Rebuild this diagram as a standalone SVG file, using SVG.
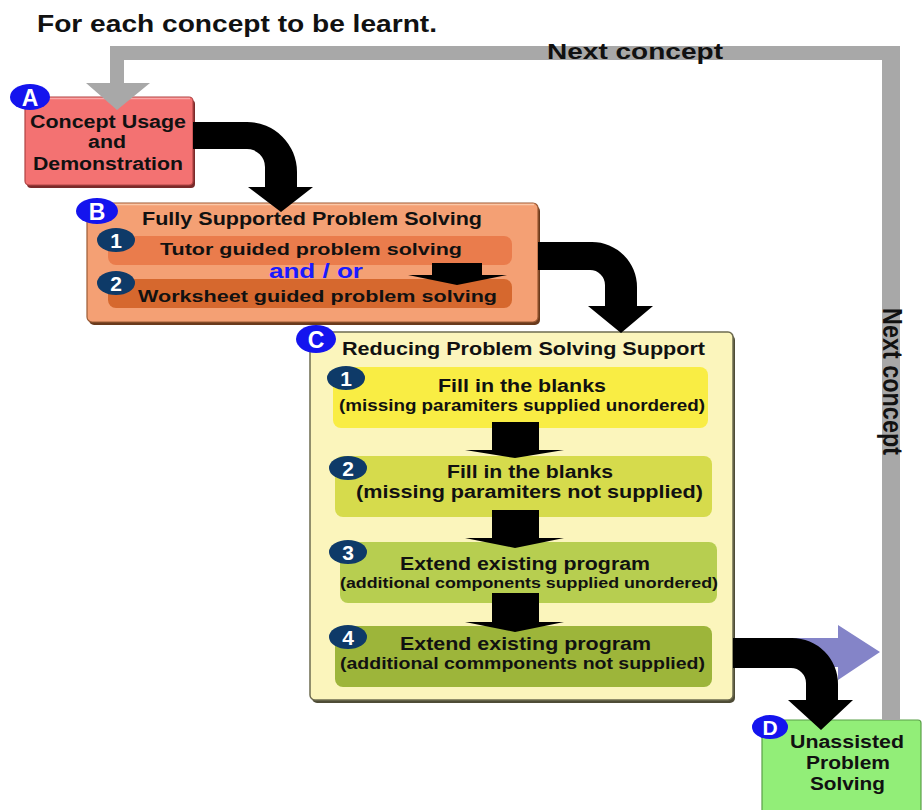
<svg xmlns="http://www.w3.org/2000/svg" width="924" height="810" viewBox="0 0 924 810">
  <defs>
    <style>
      .t { font-family: "Liberation Sans", Arial, sans-serif; font-weight: bold; fill: #111; }
      .w { font-family: "Liberation Sans", Arial, sans-serif; font-weight: bold; fill: #fff; text-anchor: middle; }
      .badge { fill: #1414ee; }
      .num { fill: #0e3a68; }
      .blk { fill: #000; }
    </style>
  </defs>
  <rect width="924" height="810" fill="#fff"/>

  <text class="t" x="37" y="32" font-size="23" textLength="400" lengthAdjust="spacingAndGlyphs">For each concept to be learnt.</text>

  <!-- A -->
  <g id="nodeA">
    <rect x="27" y="100" width="168" height="88" rx="4" fill="#7a2a2a"/>
    <rect x="25" y="97" width="168" height="88" rx="4" fill="#f37272" stroke="#b04444" stroke-width="1.2"/>
    <line x1="28" y1="98.5" x2="190" y2="98.5" stroke="#f9a8a8" stroke-width="1.5"/>
    <ellipse class="badge" cx="30" cy="97" rx="20" ry="13"/>
    <text class="w" x="30" y="105.5" font-size="23">A</text>
    <text class="t" x="30" y="128" font-size="18" textLength="156" lengthAdjust="spacingAndGlyphs">Concept Usage</text>
    <text class="t" x="88" y="148" font-size="18" textLength="38" lengthAdjust="spacingAndGlyphs">and</text>
    <text class="t" x="33" y="170" font-size="18" textLength="150" lengthAdjust="spacingAndGlyphs">Demonstration</text>
  </g>

  <!-- B -->
  <g id="nodeB">
    <rect x="89" y="206" width="451" height="119" rx="5" fill="#6a3a1c"/>
    <rect x="87" y="203" width="451" height="119" rx="5" fill="#f4a074" stroke="#9a5a34" stroke-width="1.2"/>
    <line x1="91" y1="204.5" x2="534" y2="204.5" stroke="#f9c8a8" stroke-width="1.5"/>
    <rect x="108" y="236" width="404" height="29" rx="8" fill="#ea7c4c"/>
    <rect x="108" y="279" width="404" height="29" rx="8" fill="#d6682e"/>
    <ellipse class="badge" cx="97" cy="211" rx="21" ry="13"/>
    <text class="w" x="97" y="219.5" font-size="23">B</text>
    <ellipse class="num" cx="116" cy="240" rx="19" ry="12"/>
    <text class="w" x="116" y="247.5" font-size="21">1</text>
    <ellipse class="num" cx="116" cy="283" rx="19" ry="12"/>
    <text class="w" x="116" y="290.5" font-size="21">2</text>
    <text class="t" x="142" y="225" font-size="17.5" textLength="340" lengthAdjust="spacingAndGlyphs">Fully Supported Problem Solving</text>
    <text class="t" x="160" y="255" font-size="17" textLength="302" lengthAdjust="spacingAndGlyphs">Tutor guided problem solving</text>
    <text class="t" x="269" y="278" font-size="20" textLength="94" lengthAdjust="spacingAndGlyphs" style="fill:#1a1aff">and / or</text>
    <text class="t" x="138" y="302" font-size="17" textLength="359" lengthAdjust="spacingAndGlyphs">Worksheet guided problem solving</text>
  </g>

  <!-- C -->
  <g id="nodeC">
    <rect x="312" y="335" width="423" height="368" rx="5" fill="#4e4c36"/>
    <rect x="310" y="332" width="423" height="368" rx="5" fill="#fbf5bc" stroke="#6e6c50" stroke-width="1.5"/>
    <rect x="333" y="367" width="375" height="61" rx="8" fill="#f9ed44"/>
    <rect x="335" y="456" width="377" height="61" rx="8" fill="#d6db4c"/>
    <rect x="340" y="542" width="377" height="61" rx="8" fill="#b7ce50"/>
    <rect x="335" y="626" width="377" height="61" rx="8" fill="#9db53a"/>
    <ellipse class="badge" cx="316" cy="339" rx="20" ry="14"/>
    <text class="w" x="316" y="347.5" font-size="23">C</text>
    <ellipse class="num" cx="346" cy="378" rx="19" ry="12"/>
    <text class="w" x="346" y="385.5" font-size="21">1</text>
    <ellipse class="num" cx="348" cy="468" rx="19" ry="12"/>
    <text class="w" x="348" y="475.5" font-size="21">2</text>
    <ellipse class="num" cx="348" cy="552" rx="19" ry="12"/>
    <text class="w" x="348" y="559.5" font-size="21">3</text>
    <ellipse class="num" cx="348" cy="637" rx="19" ry="12"/>
    <text class="w" x="348" y="644.5" font-size="21">4</text>
    <text class="t" x="342" y="355" font-size="18" textLength="363" lengthAdjust="spacingAndGlyphs">Reducing Problem Solving Support</text>
    <text class="t" x="438" y="392" font-size="18" textLength="168" lengthAdjust="spacingAndGlyphs">Fill in the blanks</text>
    <text class="t" x="339" y="411" font-size="16" textLength="366" lengthAdjust="spacingAndGlyphs">(missing paramiters supplied unordered)</text>
    <text class="t" x="447" y="478" font-size="18" textLength="166" lengthAdjust="spacingAndGlyphs">Fill in the blanks</text>
    <text class="t" x="356" y="498" font-size="17.5" textLength="347" lengthAdjust="spacingAndGlyphs">(missing paramiters not supplied)</text>
    <text class="t" x="400" y="570" font-size="17.5" textLength="250" lengthAdjust="spacingAndGlyphs">Extend existing program</text>
    <text class="t" x="340" y="588" font-size="15" textLength="378" lengthAdjust="spacingAndGlyphs">(additional components supplied unordered)</text>
    <text class="t" x="400" y="650" font-size="17.5" textLength="251" lengthAdjust="spacingAndGlyphs">Extend existing program</text>
    <text class="t" x="340" y="669" font-size="16" textLength="365" lengthAdjust="spacingAndGlyphs">(additional commponents not supplied)</text>
  </g>

  <!-- D -->
  <g id="nodeD">
    <rect x="762" y="720" width="159" height="95" rx="3" fill="#92ee78" stroke="#5aa048" stroke-width="1.2"/>
    <ellipse class="badge" cx="770" cy="727" rx="18" ry="12"/>
    <text class="w" x="770" y="735" font-size="21">D</text>
    <text class="t" x="790" y="748" font-size="18" textLength="114" lengthAdjust="spacingAndGlyphs">Unassisted</text>
    <text class="t" x="806" y="769" font-size="18" textLength="84" lengthAdjust="spacingAndGlyphs">Problem</text>
    <text class="t" x="810" y="790" font-size="18" textLength="75" lengthAdjust="spacingAndGlyphs">Solving</text>
  </g>

  <!-- connectors -->
  <g id="connectors">
    <!-- loop back to the next concept -->
    <polygon fill="#a8a8a8" points="900,720 900,46 110,46 110,83 86,83 117,110 150,83 124,83 124,60 882,60 882,720"/>
    <text class="t" x="547" y="59" font-size="22" textLength="176" lengthAdjust="spacingAndGlyphs">Next concept</text>
    <text class="t" transform="translate(883,308) scale(1.2,1) rotate(90)" x="0" y="0" font-size="23" textLength="147" lengthAdjust="spacingAndGlyphs">Next concept</text>

    <!-- C to loop -->
    <path fill="#8484c8" d="M733,638 L838,638 L838,625 L880,652 L838,680 L838,667 L733,667 Z"/>

    <!-- curved stage arrows -->
    <path class="blk" d="M193,122 L247,122 A50,50 0 0 1 297,172 L297,187 L313,187 L281,212 L248,187 L265,187 L265,167 A18,18 0 0 0 247,149 L193,149 Z"/>
    <path class="blk" d="M538,242 L592,242 A45,45 0 0 1 637,287 L637,306 L653,306 L621,333 L588,306 L605,306 L605,285 A15,15 0 0 0 590,270 L538,270 Z"/>
    <path class="blk" d="M733,638 L792,638 A46,46 0 0 1 838,684 L838,700 L853,700 L821,730 L788,700 L806,700 L806,683 A15,15 0 0 0 791,668 L733,668 Z"/>

    <!-- step arrows -->
    <path class="blk" d="M432,263 L482,263 L482,275 L507,275 L457,285 L408,275 L432,275 Z"/>
    <path class="blk" d="M492,422 L539,422 L539,450 L564,450 L515,458 L465,450 L492,450 Z"/>
    <path class="blk" d="M492,510 L539,510 L539,538 L564,538 L515,548 L465,538 L492,538 Z"/>
    <path class="blk" d="M492,593 L539,593 L539,622 L564,622 L515,632 L465,622 L492,622 Z"/>
  </g>
</svg>
